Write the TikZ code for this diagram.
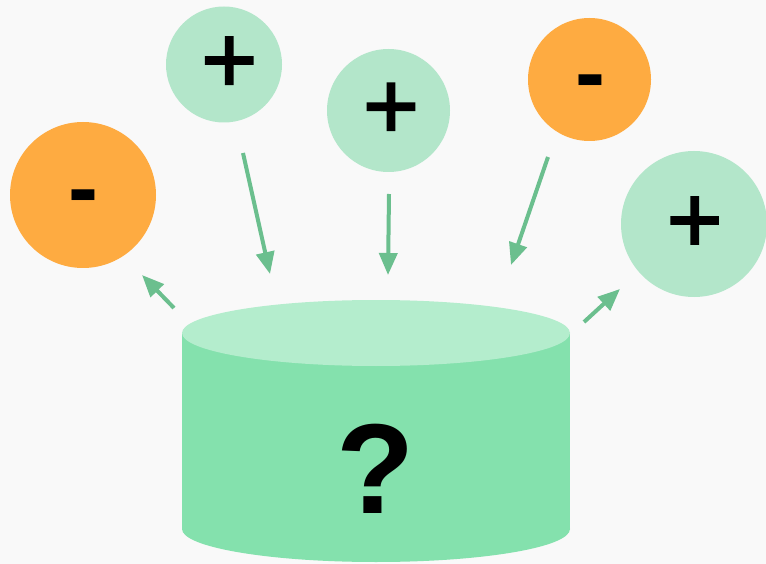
\documentclass[tikz,border=0pt]{standalone}
\usepackage{fontspec}
\setmainfont{Liberation Sans}
\newfontfamily\plusfont[FakeBold=2]{Liberation Sans}
\usetikzlibrary{arrows.meta}
\definecolor{bgc}{HTML}{F9F9F9}
\definecolor{plusc}{HTML}{B3E6CA}
\definecolor{minusc}{HTML}{FEAB41}
\definecolor{bodyc}{HTML}{84E1AD}
\definecolor{topc}{HTML}{B4EDCD}
\definecolor{arrc}{HTML}{6BBF8E}
\tikzset{
  ball/.style={circle, inner sep=0pt, minimum size=#1},
  pball/.style={ball=#1, fill=plusc},
  mball/.style={ball=#1, fill=minusc},
  msign/.style={inner sep=0pt, font=\fontsize{90}{90}\selectfont\bfseries},
  psign/.style={inner sep=0pt, font=\fontsize{96}{96}\selectfont\plusfont},
  flow/.style={draw=arrc, line width=4pt, -{Triangle[length=22pt,width=18pt]}},
}
\begin{document}
\begin{tikzpicture}[x=1pt,y=-1pt]
  \fill[bgc] (0,0) rectangle (766,564);
  \useasboundingbox (0,0) rectangle (766,564);

  % store: body, bottom rim, lid
  \fill[bodyc] (182,333) rectangle (570,529);
  \fill[bodyc] (376,529) ellipse [x radius=194, y radius=33];
  \fill[topc] (376,333) ellipse [x radius=194, y radius=33];
  \node[inner sep=0pt, font=\fontsize{128}{128}\selectfont\bfseries] (q) at (376,469) {?};

  % charges
  \node[mball=146pt] (m1) at (83,195) {};
  \node[pball=116pt] (p1) at (224,64.5) {};
  \node[pball=123pt] (p2) at (388.5,110.5) {};
  \node[mball=123pt] (m2) at (589.5,79.5) {};
  \node[pball=146pt] (p3) at (694,224) {};

  \node[msign] (m1s) at (83,204.5) {-};
  \node[psign] (p1s) at (229.3,64.8) {+};
  \node[psign] (p2s) at (391,111) {+};
  \node[msign] (m2s) at (590,89.3) {-};
  \node[psign] (p3s) at (694.7,224.7) {+};

  % flows in and out of the store
  \coordinate (a1s) at (174,308); \coordinate (a1e) at (142,275);
  \coordinate (a2s) at (243,153); \coordinate (a2e) at (270,274);
  \coordinate (a3s) at (389,194); \coordinate (a3e) at (388,275);
  \coordinate (a4s) at (548,157); \coordinate (a4e) at (511,265);
  \coordinate (a5s) at (584,322); \coordinate (a5e) at (620,289);
  \draw[flow] (a1s) -- (a1e);
  \draw[flow] (a2s) -- (a2e);
  \draw[flow] (a3s) -- (a3e);
  \draw[flow] (a4s) -- (a4e);
  \draw[flow] (a5s) -- (a5e);
\end{tikzpicture}
\end{document}
